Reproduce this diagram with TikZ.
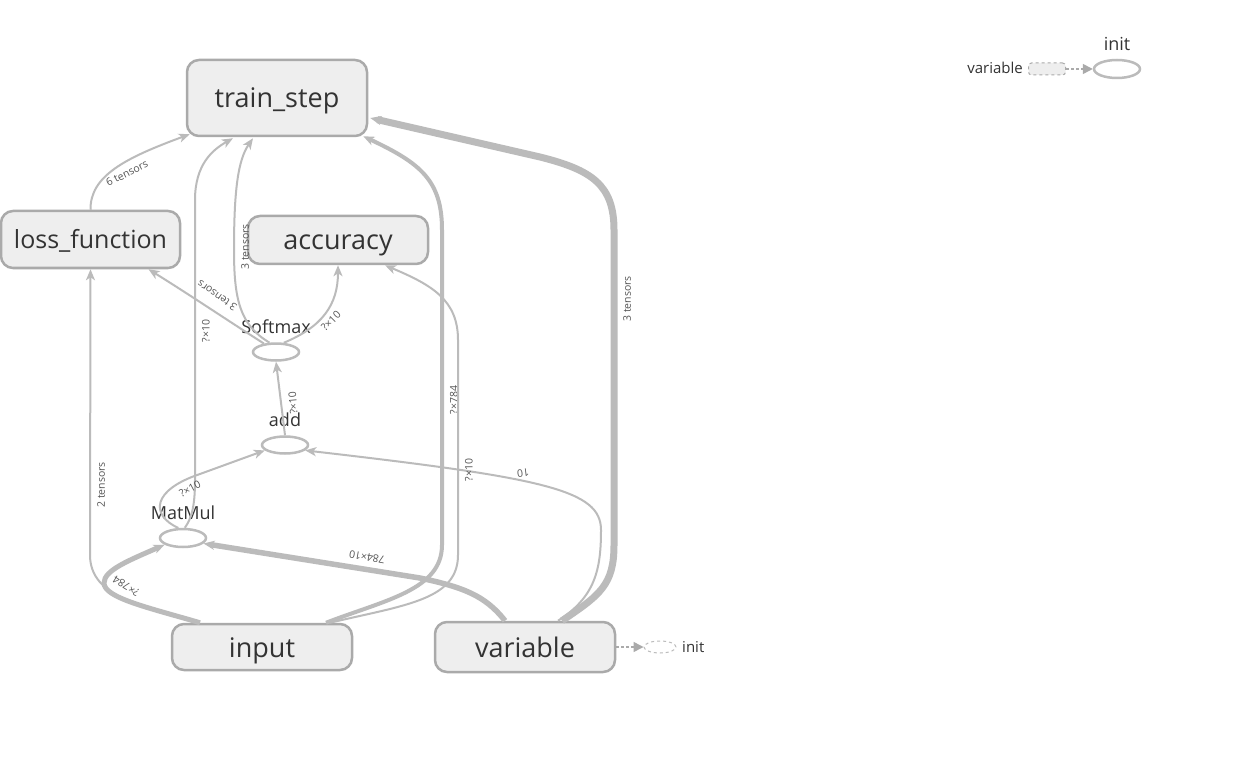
\documentclass[tikz,border=0pt]{standalone}
\usepackage{fontspec}
\setmainfont{Open Sans}
\usetikzlibrary{arrows.meta,shapes.geometric,calc}
\definecolor{edgegray}{HTML}{BBBBBB}
\definecolor{boxborder}{HTML}{AAAAAA}
\definecolor{boxfill}{HTML}{EEEEEE}
\definecolor{txt}{HTML}{333333}
\definecolor{lbl}{HTML}{555555}
\begin{document}
\begin{tikzpicture}[x=1pt,y=-1pt,
  bignode/.style={draw=boxborder, fill=boxfill, line width=2.5pt, rounded corners=12pt, minimum width=180pt, inner sep=0pt, text=txt, font=\fontsize{27}{30}\selectfont, text height=20pt, text depth=0pt},
  opnode/.style={ellipse, draw=edgegray, line width=2.5pt, minimum width=46pt, minimum height=17pt, inner sep=0pt},
  oplabel/.style={text=txt, font=\fontsize{18}{20}\selectfont, inner sep=0pt},
  conn/.style={draw=edgegray, line width=2pt, -{Stealth[length=11pt,width=9pt,inset=3pt]}},
  dotconn/.style={draw=boxborder, line width=1.5pt, dash pattern=on 3pt off 2pt, -{Triangle[length=10pt,width=10pt]}},
  elabel/.style={text=lbl, font=\fontsize{10.5}{12}\selectfont, inner sep=0pt},
]
\useasboundingbox (0,0) rectangle (1260,759);
\fill[white] (0,0) rectangle (1260,759);

% main nodes
\node[bignode, minimum height=76pt] (train) at (277,98) {train\_step};
\node[bignode, minimum height=57pt, minimum width=179pt, font=\fontsize{25}{28}\selectfont, text height=19pt] (loss) at (90.5,239.5) {loss\_function};
\node[bignode, minimum height=48pt] (acc) at (338,240) {accuracy};
\node[bignode, minimum height=46pt] (input) at (262,647) {input};
\node[bignode, minimum height=50pt] (var) at (525,647) {variable};

% op nodes
\node[opnode] (sm) at (276,352) {};
\node[oplabel] (smlbl) at (276,327) {Softmax};
\node[opnode] (add) at (285,445) {};
\node[oplabel] (addlbl) at (285,420) {add};
\node[opnode, minimum height=18pt] (mm) at (183,538) {};
\node[oplabel] (mmlbl) at (183,513) {MatMul};

% edges
\draw[conn] (loss.north) .. controls (90,176) and (125,158) .. ($(train.south west)+(4,-3)$);
\node[elabel, rotate=27] (l1) at (127,173) {6 tensors};

\draw[conn] (mm.80) .. controls (192,518) and (195,505) .. (195,480) -- (195,200) .. controls (195,165) and (212,150) .. ($(train.south)+(-44,1)$);
\node[elabel, rotate=90] (l2) at (206,331) {?×10};

\draw[conn] (sm.125) .. controls (240,325) and (234,300) .. (234,250) .. controls (234,190) and (238,160) .. ($(train.south)+(-24,1)$);
\node[elabel, rotate=90] (l3) at (245,247) {3 tensors};

\draw[conn] (sm.145) .. controls (230,322) and (190,295) .. ($(loss.south)+(58,0)$);
\node[elabel, rotate=145] (l4) at (217,296) {3 tensors};

\draw[conn] (sm.50) .. controls (322,327) and (338,305) .. (acc.south);
\node[elabel, rotate=45] (l5) at (331,321) {?×10};

\draw[conn] (add.north) -- (sm.south);
\node[elabel, rotate=95] (l6) at (293,403) {?×10};

\draw[conn] (mm.115) .. controls (150,515) and (152,490) .. (200,474) -- (add.195);
\node[elabel, rotate=28] (l7) at (190,489) {?×10};

\draw[conn] ($(var.north)+(33,0)$) .. controls (595,597) and (601,570) .. (601,530) .. controls (601,490) and (545,478) .. (add.-15);
\node[elabel, rotate=187] (l8) at (523,473) {10};

\draw[conn, line width=5.5pt] ($(var.north)+(-20,0)$) .. controls (485,595) and (462,587) .. (420,578) -- (mm.-15);
\node[elabel, rotate=170] (l9) at (367,557) {784×10};

\draw[conn, line width=5pt] ($(input.north)+(-62,0)$) .. controls (150,608) and (104,598) .. (104,583) .. controls (104,570) and (130,560) .. (mm.200);
\node[elabel, rotate=148] (l10) at (126,586) {?×784};

\draw[conn] ($(input.north)+(-64,0)$) .. controls (145,607) and (90,598) .. (90,555) -- (loss.south);
\node[elabel, rotate=90] (l11) at (101,485) {2 tensors};

\draw[conn, line width=4pt] ($(input.north)+(64,0)$) .. controls (385,600) and (442,590) .. (442,545) -- (442,230) .. controls (442,180) and (420,163) .. ($(train.south east)+(-5,-1)$);
\node[elabel, rotate=90] (l12) at (454,400) {?×784};

\draw[conn] ($(input.north)+(68,0)$) .. controls (405,605) and (458,600) .. (458,555) -- (458,340) .. controls (458,300) and (432,285) .. ($(acc.south)+(47,0)$);
\node[elabel, rotate=90] (l13) at (469,470) {?×10};

\draw[conn, line width=7pt] ($(var.north)+(37,0)$) .. controls (600,595) and (614,585) .. (614,545) -- (614,230) .. controls (614,185) and (592,170) .. (540,157) -- ($(train.east)+(2,20)$);
\node[elabel, rotate=90] (l14) at (627,299) {3 tensors};

% bottom init
\node[ellipse, draw=edgegray, dashed, line width=1pt, minimum width=32pt, minimum height=12pt, inner sep=0pt] (varinit) at (660,647) {};
\node[text=txt, font=\fontsize{15}{17}\selectfont, anchor=west, inner sep=0pt] (varinitlbl) at (682,647) {init};
\draw[dotconn] (var.east) -- (varinit.west);

% top-right legend
\node[draw=boxborder, dashed, fill=boxfill, rounded corners=3pt, minimum width=37pt, minimum height=12pt, line width=1pt, inner sep=0pt] (legvar) at (1047,69) {};
\node[text=txt, font=\fontsize{15}{17}\selectfont, anchor=east, inner sep=0pt] (legvarlbl) at (1023,68) {variable};
\node[opnode, minimum height=18pt] (leginit) at (1117,69) {};
\node[oplabel] (leginitlbl) at (1117,44) {init};
\draw[dotconn] (legvar.east) -- (leginit.west);
\end{tikzpicture}
\end{document}
